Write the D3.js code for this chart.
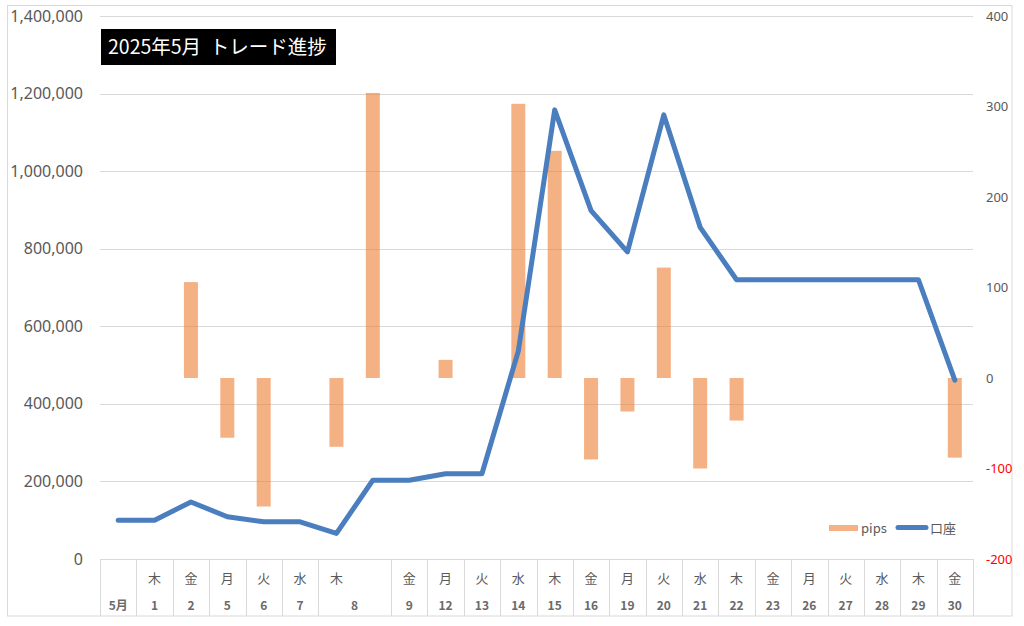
<!DOCTYPE html>
<html>
<head>
<meta charset="utf-8">
<script src="https://cdn.jsdelivr.net/npm/d3@7"></script>
<style>
  html, body { margin: 0; padding: 0; background: #fff; }
  svg { display: block; }
</style>
</head>
<body>
<svg id="chart" width="1024" height="626"></svg>
<script>
// ---- data ----
const weekdays = ["", "木", "金", "月", "火", "水", "木", "", "金", "月", "火", "水", "木", "金", "月", "火", "水", "木", "金", "月", "火", "水", "木", "金"];
const dates    = ["5月", "1", "2", "5", "6", "7", "8", "8", "9", "12", "13", "14", "15", "16", "19", "20", "21", "22", "23", "26", "27", "28", "29", "30"];
const pips     = [null, null, 106, -66, -142, null, -76, 315, null, 20, null, 303, 251, -90, -37, 122, -100, -47, null, null, null, null, null, -88];
const account  = [100000, 100000, 147000, 109000, 96000, 96000, 66000, 203000, 203000, 220000, 220000, 536000, 1158000, 898000, 792000, 1145000, 855000, 720000, 720000, 720000, 720000, 720000, 720000, 461000];
const leftTicks  = [0, 200000, 400000, 600000, 800000, 1000000, 1200000, 1400000];
const rightTicks = [-200, -100, 0, 100, 200, 300, 400];
const titleText = "2025年5月\u00a0\u00a0トレード進捗";
const seriesNames = ["pips", "口座"];

// ---- layout ----
const svg = d3.select("#chart");
const X0 = 100, X1 = 973, Y0 = 559, Y1 = 16, TABLE_BOTTOM = 616;
const idx = d3.range(dates.length);
const x = d3.scaleBand().domain(idx).range([X0, X1]).padding(0);
const yL = d3.scaleLinear().domain([0, 1400000]).range([Y0, Y1]);
const yR = d3.scaleLinear().domain([-200, 400]).range([Y0, Y1]);
const cx = i => x(i) + x.bandwidth() / 2;

const grey = "#595959", gridCol = "#D9D9D9";
const font = "'Noto Sans', 'Noto Sans CJK JP', sans-serif";
const cjk = "'Noto Sans CJK JP', 'Noto Sans', sans-serif";

// chart border
svg.append("rect").attr("x", 7.5).attr("y", 5.5).attr("width", 1004.5).attr("height", 610.5)
  .attr("fill", "#fff").attr("stroke", gridCol).attr("stroke-width", 1);

// gridlines (left axis)
svg.append("g").selectAll("line").data(leftTicks).join("line")
  .attr("x1", X0).attr("x2", X1)
  .attr("y1", d => Math.round(yL(d)) + 0.5).attr("y2", d => Math.round(yL(d)) + 0.5)
  .attr("stroke", gridCol).attr("stroke-width", 1);

// left axis labels
const fmt = d3.format(",");
svg.append("g").selectAll("text").data(leftTicks).join("text")
  .attr("x", 83).attr("y", d => yL(d)).attr("dy", "0.35em")
  .attr("text-anchor", "end").attr("font-family", font).attr("font-size", 16)
  .attr("fill", grey).text(d => fmt(d));

// right axis labels
svg.append("g").selectAll("text").data(rightTicks).join("text")
  .attr("x", 986).attr("y", d => yR(d)).attr("dy", "0.35em")
  .attr("text-anchor", "start").attr("font-family", font).attr("font-size", 13)
  .attr("fill", d => d < 0 ? "#FF0000" : grey).text(d => d);

// category table: boundaries between date groups
const groups = [];
dates.forEach((d, i) => {
  if (i > 0 && dates[i - 1] === d) groups[groups.length - 1].end = i;
  else groups.push({ label: d, start: i, end: i });
});
const boundaries = groups.map(g => x(g.start)).concat([X1]);
svg.append("g").selectAll("line").data(boundaries).join("line")
  .attr("x1", d => Math.round(d) + 0.5).attr("x2", d => Math.round(d) + 0.5)
  .attr("y1", Y0).attr("y2", TABLE_BOTTOM)
  .attr("stroke", gridCol).attr("stroke-width", 1);

// weekday row
svg.append("g").selectAll("text").data(idx).join("text")
  .attr("x", i => cx(i)).attr("y", 578).attr("dy", "0.35em")
  .attr("text-anchor", "middle").attr("font-family", cjk).attr("font-size", 13)
  .attr("fill", grey).text(i => weekdays[i]);

// date row (grouped)
svg.append("g").selectAll("text").data(groups).join("text")
  .attr("x", g => (x(g.start) + x(g.end) + x.bandwidth()) / 2).attr("y", 606).attr("dy", "0.35em")
  .attr("text-anchor", "middle").attr("font-family", cjk).attr("font-size", 12).attr("font-weight", "bold")
  .attr("fill", "#6a6a6a").text(g => g.label);

// bars (pips, right axis)
const barW = 14;
svg.append("g").selectAll("rect").data(idx.filter(i => pips[i] !== null)).join("rect")
  .attr("x", i => cx(i) - barW / 2)
  .attr("y", i => Math.min(yR(0), yR(pips[i])))
  .attr("width", barW)
  .attr("height", i => Math.abs(yR(pips[i]) - yR(0)))
  .attr("fill", "#ED7D31").attr("fill-opacity", 0.6);

// line (account, left axis)
const line = d3.line().x(i => cx(i)).y(i => yL(account[i]));
svg.append("path").datum(idx).attr("d", line)
  .attr("fill", "none").attr("stroke", "#4A7EBF").attr("stroke-width", 5)
  .attr("stroke-linejoin", "round").attr("stroke-linecap", "round");

// title box
svg.append("rect").attr("x", 101).attr("y", 29).attr("width", 235).attr("height", 36).attr("fill", "#000");
svg.append("text").attr("x", 108).attr("y", 47).attr("dy", "0.36em")
  .attr("font-family", cjk).attr("font-size", 19.5).attr("fill", "#fff").text(titleText);

// legend
const lg = svg.append("g").attr("font-family", cjk).attr("font-size", 13).attr("fill", grey);
lg.append("rect").attr("x", 829).attr("y", 525).attr("width", 29).attr("height", 6)
  .attr("fill", "#ED7D31").attr("fill-opacity", 0.6);
lg.append("text").attr("x", 861).attr("y", 528).attr("dy", "0.35em").text(seriesNames[0]);
lg.append("line").attr("x1", 898).attr("x2", 926).attr("y1", 527.5).attr("y2", 527.5)
  .attr("stroke", "#4A7EBF").attr("stroke-width", 5).attr("stroke-linecap", "round");
lg.append("text").attr("x", 930).attr("y", 528).attr("dy", "0.35em").text(seriesNames[1]);
</script>
</body>
</html>
